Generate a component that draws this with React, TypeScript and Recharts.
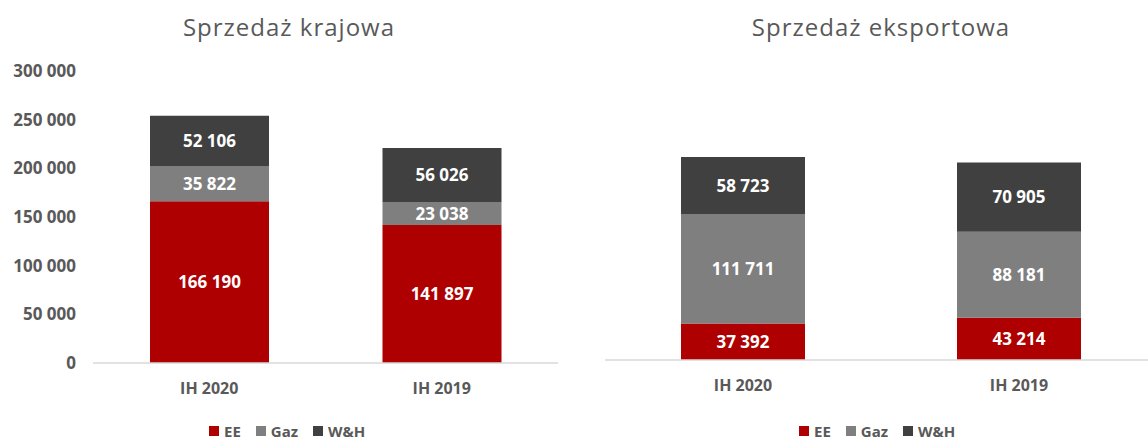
import React from 'react';
import { BarChart, Bar, XAxis, YAxis, LabelList } from 'recharts';

const categories = ['IH 2020', 'IH 2019'];
const domesticEE = [166190, 141897];
const domesticGaz = [35822, 23038];
const domesticWH = [52106, 56026];
const exportEE = [37392, 43214];
const exportGaz = [111711, 88181];
const exportWH = [58723, 70905];
const yTicks = [0, 50000, 100000, 150000, 200000, 250000, 300000];
const seriesKeys = ['EE', 'Gaz', 'WH'];
const seriesNames = ['EE', 'Gaz', 'W&H'];
const seriesColors = ['#AE0000', '#7F7F7F', '#404040'];
const titles = ['Sprzedaż krajowa', 'Sprzedaż eksportowa'];

const domesticData = categories.map((c, i) => ({ name: c, EE: domesticEE[i], Gaz: domesticGaz[i], WH: domesticWH[i] }));
const exportData = categories.map((c, i) => ({ name: c, EE: exportEE[i], Gaz: exportGaz[i], WH: exportWH[i] }));

const FONT = '"Open Sans", sans-serif';
const TEXT = '#595959';

const fmt = (v: any) => String(v).replace(/\B(?=(\d{3})+(?!\d))/g, ' ');

const Legend = ({ left }: { left: number }) => (
  <div style={{ position: 'absolute', top: 423, left, height: 16, lineHeight: '16px', display: 'flex', alignItems: 'center', fontFamily: FONT, fontSize: 15, fontWeight: 700, color: TEXT }}>
    {seriesNames.map((n, i) => (
      <div key={n} style={{ display: 'flex', alignItems: 'center', marginRight: 15 }}>
        <div style={{ width: 10, height: 10, background: seriesColors[i], marginRight: 5 }} />
        <span>{n}</span>
      </div>
    ))}
  </div>
);

const Title = ({ text, center }: { text: string; center: number }) => (
  <div style={{ position: 'absolute', top: 10, left: center - 200, width: 400, textAlign: 'center', fontFamily: FONT, fontSize: 24, letterSpacing: 1, color: TEXT }}>
    {text}
  </div>
);

const bars = (size: number) =>
  seriesKeys.map((k, i) => (
    <Bar key={k} dataKey={k} name={seriesNames[i]} stackId="a" fill={seriesColors[i]} barSize={size} isAnimationActive={false}>
      <LabelList dataKey={k} position="center" formatter={fmt} fill="#FFFFFF" style={{ fontFamily: FONT, fontSize: 17, fontWeight: 700 }} />
    </Bar>
  ));

const axisTick = { fill: TEXT, fontFamily: FONT, fontSize: 16, fontWeight: 700 };

export default function App() {
  return (
    <div style={{ position: 'absolute', top: 0, left: 0, width: 1148, height: 441, overflow: 'hidden', background: '#fff' }}>
      <Title text={titles[0]} center={289} />
      <Title text={titles[1]} center={881} />
      <div style={{ position: 'absolute', top: 0, left: 0 }}>
        <BarChart width={580} height={441} data={domesticData} margin={{ top: 71, right: 22, bottom: 0, left: 0 }}>
          <YAxis
            width={93}
            domain={[0, 300000]}
            ticks={yTicks}
            interval={0}
            tickFormatter={fmt}
            axisLine={false}
            tickLine={false}
            tickSize={0}
            tickMargin={17}
            tick={{ ...axisTick, fontSize: 17 }}
          />
          <XAxis
            dataKey="name"
            height={78}
            axisLine={{ stroke: '#D9D9D9', strokeWidth: 1.5 }}
            tickLine={false}
            tickSize={0}
            tickMargin={20}
            tick={axisTick}
          />
          {bars(119)}
        </BarChart>
      </div>
      <div style={{ position: 'absolute', top: 0, left: 580 }}>
        <BarChart width={580} height={441} data={exportData} margin={{ top: 67, right: 3, bottom: 0, left: 25 }}>
          <YAxis hide domain={[0, 300000]} ticks={yTicks} />
          <XAxis
            dataKey="name"
            height={81}
            axisLine={{ stroke: '#D9D9D9', strokeWidth: 1.5 }}
            tickLine={false}
            tickSize={0}
            tickMargin={20}
            tick={axisTick}
          />
          {bars(124)}
        </BarChart>
      </div>
      <Legend left={209} />
      <Legend left={799} />
    </div>
  );
}
